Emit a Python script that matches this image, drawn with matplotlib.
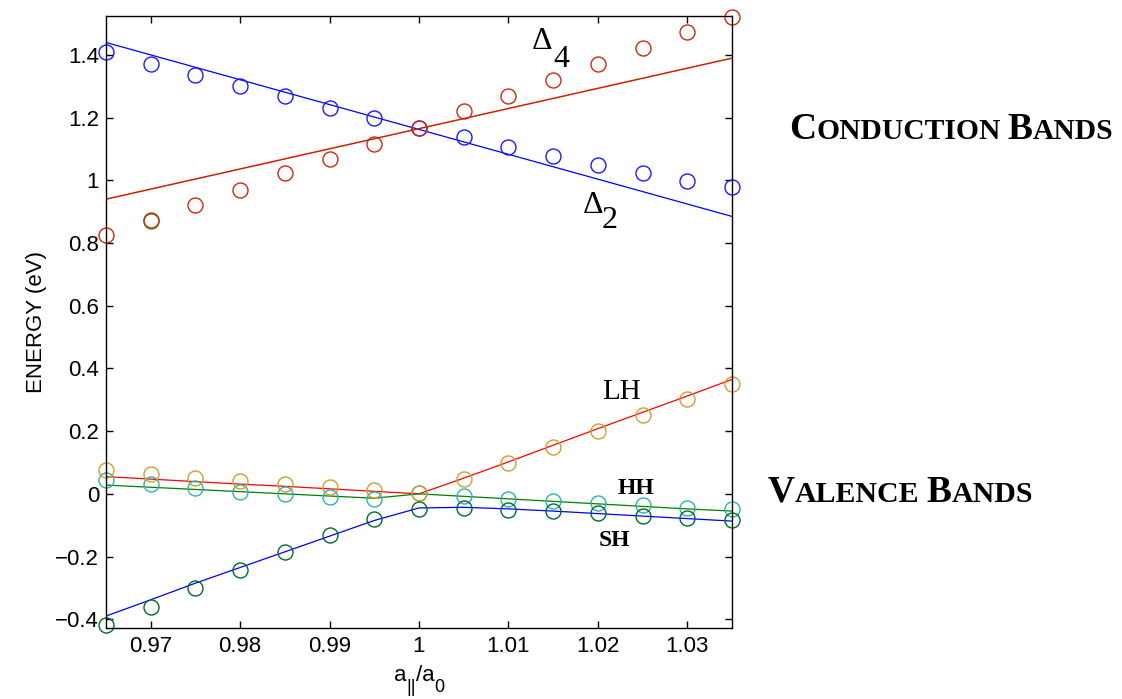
import matplotlib
matplotlib.use("Agg")
import matplotlib.pyplot as plt

plt.rcParams["font.family"] = ["Liberation Sans", "DejaVu Sans"]
plt.rcParams["axes.unicode_minus"] = True

# a_par / a_0 strain ratio
ratio = [0.965, 0.970, 0.975, 0.980, 0.985, 0.990, 0.995, 1.000,
         1.005, 1.010, 1.015, 1.020, 1.025, 1.030, 1.035]

# conduction bands: computed points and model lines (end points)
delta2_pts = [1.41, 1.37, 1.335, 1.30, 1.268, 1.232, 1.198, 1.168,
              1.137, 1.108, 1.078, 1.048, 1.025, 0.998, 0.980]
delta4_pts = [0.825, 0.875, 0.920, 0.970, 1.022, 1.068, 1.117, 1.168,
              1.220, 1.270, 1.320, 1.370, 1.422, 1.472, 1.520]
delta2_line_x = [0.965, 1.035]
delta2_line = [1.44, 0.885]
delta4_line_x = [0.965, 1.035]
delta4_line = [0.94, 1.39]
extra_pt_x = [0.970]
extra_pt_y = [0.870]

# valence bands
lh_pts = [0.077, 0.063, 0.052, 0.042, 0.032, 0.022, 0.012, 0.002,
          0.047, 0.098, 0.148, 0.200, 0.252, 0.302, 0.350]
hh_pts = [0.045, 0.030, 0.018, 0.007, -0.002, -0.010, -0.017, 0.002,
          -0.008, -0.015, -0.022, -0.030, -0.037, -0.044, -0.048]
sh_pts = [-0.420, -0.360, -0.300, -0.243, -0.185, -0.130, -0.080, -0.048,
          -0.046, -0.050, -0.056, -0.062, -0.070, -0.076, -0.082]
lh_line = [0.055, 0.047, 0.039, 0.031, 0.024, 0.016, 0.008, 0.000,
           0.050, 0.102, 0.155, 0.208, 0.260, 0.312, 0.365]
hh_line = [0.028, 0.021, 0.014, 0.007, 0.000, -0.007, -0.014, 0.000,
           -0.008, -0.016, -0.024, -0.032, -0.040, -0.048, -0.055]
sh_line = [-0.390, -0.338, -0.285, -0.235, -0.185, -0.135, -0.085, -0.045,
           -0.043, -0.048, -0.055, -0.063, -0.071, -0.079, -0.087]

W, H = 1122, 699
fig = plt.figure(figsize=(W / 100, H / 100), dpi=100)
ax = fig.add_axes([106 / W, 1 - 628 / H, 626 / W, 612.5 / H])

mk = dict(marker="o", linestyle="none", markersize=10.8, markerfacecolor="none",
          markeredgewidth=1.0, clip_on=False)

ax.plot(delta2_line_x, delta2_line, color="#0000ff", lw=0.9)
ax.plot(delta4_line_x, delta4_line, color="#cc2200", lw=1.1)
ax.plot(ratio, delta2_pts, markeredgecolor="#1a1aff", **mk)
ax.plot(extra_pt_x, extra_pt_y, markeredgecolor="#20a020", **mk)
ax.plot(ratio, delta4_pts, markeredgecolor="#cc2a10", **mk)

ax.plot(ratio, lh_line, color="#ff0000", lw=0.9)
ax.plot(ratio, hh_line, color="#008000", lw=0.9)
ax.plot(ratio, sh_line, color="#0000ff", lw=0.9)
ax.plot(ratio, hh_pts, markeredgecolor="#30b0b0", **mk)
ax.plot(ratio, lh_pts, markeredgecolor="#c8a030", **mk)
ax.plot(ratio, sh_pts, markeredgecolor="#006b2a", **mk)

ax.set_xlim(0.965, 1.035)
ax.set_ylim(-0.428, 1.526)
xt = [0.97, 0.98, 0.99, 1.0, 1.01, 1.02, 1.03]
yt = [-0.4, -0.2, 0, 0.2, 0.4, 0.6, 0.8, 1.0, 1.2, 1.4]
ax.set_xticks(xt)
ax.set_xticklabels(["%g" % v for v in xt])
ax.set_yticks(yt)
ax.set_yticklabels([("%g" % v).replace("-", "\u2212") for v in yt])
ax.tick_params(direction="in", length=5, width=1, top=True, right=True,
               labelsize=16)
ax.tick_params(axis="x", pad=6)
ax.tick_params(axis="y", pad=5)
for s in ax.spines.values():
    s.set_linewidth(1.0)

ax.set_ylabel("ENERGY (eV)", fontsize=16, labelpad=6)

serif = ["Liberation Serif", "DejaVu Serif"]
sans = ["Liberation Sans", "DejaVu Sans"]
renderer = fig.canvas.get_renderer()


def pieces(x_px, y_px, parts, family, weight="normal", center=False):
    # text pieces on one baseline (with optional drop), measured one by one
    x = x_px
    drawn = []
    for txt, size, drop in parts:
        if txt == " ":
            x += 0.25 * size * 100 / 72
            continue
        t = fig.text(x / W, 1 - (y_px + drop) / H, txt, fontsize=size,
                     family=family, weight=weight, ha="left", va="baseline")
        drawn.append(t)
        x += t.get_window_extent(renderer).width
    if center:
        shift = (x - x_px) / 2
        for t in drawn:
            px, py = t.get_position()
            t.set_position((px - shift / W, py))


# x label a_||/a_0 with large, low subscripts
pieces(419, 681, [("a", 16, 0), ("||", 13, 11), ("/a", 16, 0), ("0", 13, 11)],
       sans, center=True)

# band labels (subscripts drawn at full size, as in the original)
ax.text(1.01263, 1.420, "\u0394", fontsize=23, family=serif, va="baseline")
ax.text(1.0150, 1.362, "4", fontsize=23, family=serif, va="baseline")
ax.text(1.01833, 0.896, "\u0394", fontsize=23, family=serif, va="baseline")
ax.text(1.02046, 0.849, "2", fontsize=23, family=serif, va="baseline")
ax.text(1.02043, 0.302, "LH", fontsize=21, family=serif, va="baseline")
ax.text(1.0222, 0.000, "HH", fontsize=17, family=serif, weight="bold",
        va="baseline")
ax.text(1.02005, -0.165, "SH", fontsize=17, family=serif, weight="bold",
        va="baseline")

pieces(789, 139, [("C", 27, 0), ("ONDUCTION", 21.3, 0), (" ", 21, 0),
                  ("B", 27, 0), ("ANDS", 21.3, 0)], serif, weight="bold")
pieces(768, 501.5, [("V", 27, 0), ("ALENCE", 21.5, 0), (" ", 21, 0),
                    ("B", 27, 0), ("ANDS", 21.5, 0)], serif, weight="bold")

fig.savefig("out.png", dpi=100)
